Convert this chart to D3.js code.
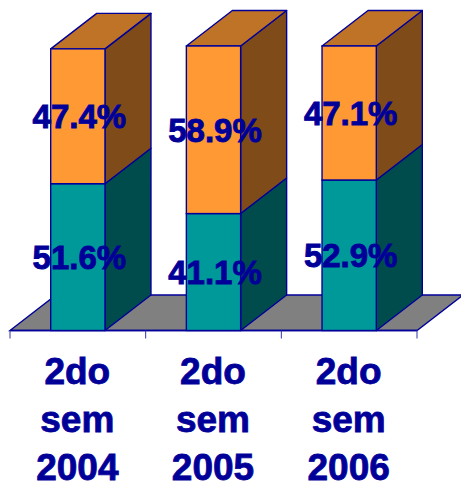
<!DOCTYPE html>
<html><head><meta charset="utf-8">
<script src="https://cdn.jsdelivr.net/npm/d3@7/dist/d3.min.js"></script>
<style>html,body{margin:0;padding:0;background:#fff;overflow:hidden}svg{display:block}</style>
</head><body><div id="c"></div>
<script>
const categories = ["2do sem 2004","2do sem 2005","2do sem 2006"];
const lowerValues = [51.6,41.1,52.9];
const upperValues = [47.4,58.9,47.1];
const W=461,H=482,navy="#000099";
const depth={x:46,y:35.5};
const svg=d3.select("#c").append("svg").attr("width",W).attr("height",H);
const x=d3.scaleBand().domain(categories).range([10,417]).paddingInner(0.6).paddingOuter(0.3);
const y=d3.scaleLinear().domain([0,100]).range([330.5,46]);
const pts=a=>a.map(p=>p.join(",")).join(" ");
const base=y(0);
// floor
svg.append("polygon").attr("points",pts([[10,base],[417,base],[417+depth.x,base-depth.y],[10+depth.x,base-depth.y]]))
  .attr("fill","#808080").attr("stroke",navy).attr("stroke-width",1.4);
// axis line and ticks
const tickX=d3.range(categories.length+1).map(i=>10+i*x.step());
svg.append("line").attr("x1",10).attr("x2",417).attr("y1",base).attr("y2",base).attr("stroke",navy).attr("stroke-width",1.4);
svg.selectAll(".tick").data(tickX).enter().append("line").attr("x1",d=>d).attr("x2",d=>d).attr("y1",base).attr("y2",base+8)
  .attr("stroke","#3333aa").attr("stroke-width",1);
// bars
function box(g,xl,xr,yb,yt,front,side,top){
  g.append("polygon").attr("points",pts([[xr,yt],[xr+depth.x,yt-depth.y],[xr+depth.x,yb-depth.y],[xr,yb]])).attr("fill",side).attr("stroke",navy).attr("stroke-width",1.4).attr("stroke-linejoin","round");
  if(top) g.append("polygon").attr("points",pts([[xl,yt],[xr,yt],[xr+depth.x,yt-depth.y],[xl+depth.x,yt-depth.y]])).attr("fill",top).attr("stroke",navy).attr("stroke-width",1.4).attr("stroke-linejoin","round");
  g.append("rect").attr("x",xl).attr("y",yt).attr("width",xr-xl).attr("height",yb-yt).attr("fill",front).attr("stroke",navy).attr("stroke-width",1.4);
}
categories.forEach((c,i)=>{
  const g=svg.append("g"),xl=x(c),xr=xl+x.bandwidth();
  const y1=y(lowerValues[i]),y2=y(lowerValues[i]+upperValues[i]);
  box(g,xl,xr,base,y1,"#009999","#004c4c",null);
  box(g,xl,xr,y1,y2,"#ff9933","#7f4c19","#bf7326");
});
// labels
const font="'Liberation Sans',Arial,sans-serif";
categories.forEach((c,i)=>{
  const cx=x(c)+x.bandwidth()/2+1.5;
  const y1=y(lowerValues[i]),y2=y(lowerValues[i]+upperValues[i]);
  [[lowerValues[i],(base+y1)/2],[upperValues[i],(y1+y2)/2]].forEach(([v,py])=>{
    svg.append("text").attr("x",cx).attr("y",py+12).attr("text-anchor","middle")
      .attr("font-family",font).attr("font-weight","bold").attr("font-size",33).attr("fill",navy)
      .attr("stroke",navy).attr("stroke-width",0.9).text(v.toFixed(1)+"%");
  });
  c.split(" ").forEach((w,k)=>{
    svg.append("text").attr("x",x(c)+x.bandwidth()/2-0.5).attr("y",384+k*48).attr("text-anchor","middle")
      .attr("font-family",font).attr("font-weight","bold").attr("font-size",37).attr("fill",navy)
      .attr("stroke",navy).attr("stroke-width",0.8).text(w);
  });
});
</script></body></html>
